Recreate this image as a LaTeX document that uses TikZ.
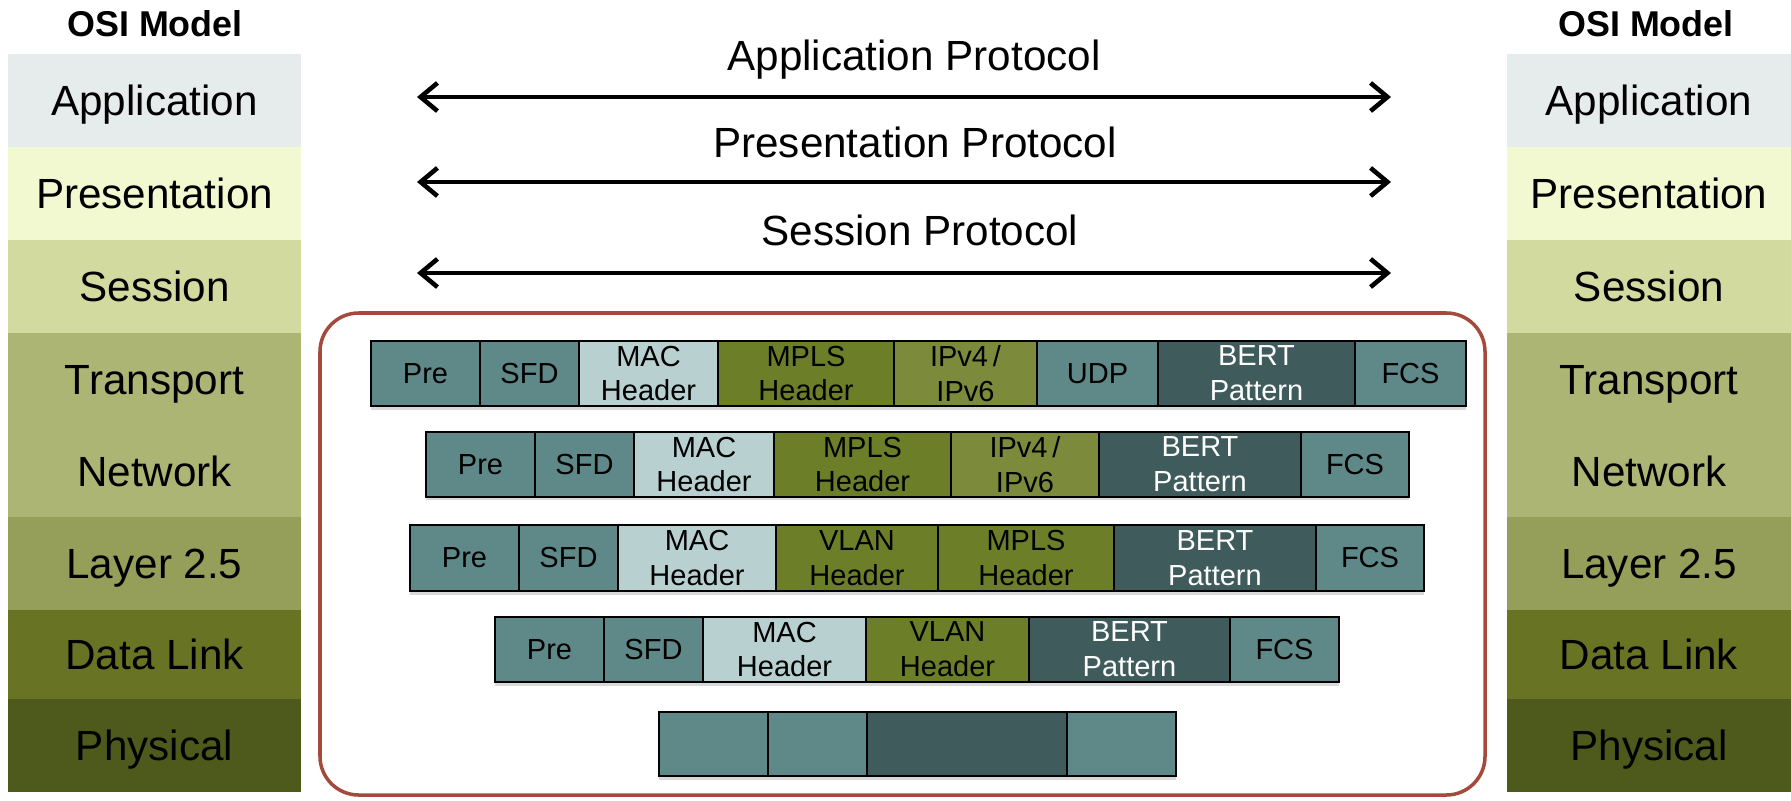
\documentclass[tikz,border=0pt]{standalone}
\usepackage{fontspec}
\setmainfont{Liberation Sans}
\usepackage{xcolor}
\usetikzlibrary{arrows.meta,positioning,shadows}

\definecolor{appcol}{HTML}{E6ECEB}
\definecolor{prescol}{HTML}{F2F8D0}
\definecolor{sesscol}{HTML}{D3DAA0}
\definecolor{netcol}{HTML}{ACB574}
\definecolor{l25col}{HTML}{959F5A}
\definecolor{linkcol}{HTML}{687423}
\definecolor{physcol}{HTML}{4E5A1C}
\definecolor{tealcol}{HTML}{5F8888}
\definecolor{maccol}{HTML}{B9D0D1}
\definecolor{mplscol}{HTML}{6C7E28}
\definecolor{ipcol}{HTML}{7C8A3C}
\definecolor{bertcol}{HTML}{405B5C}
\definecolor{framecol}{HTML}{A34A3C}

\begin{document}
\begin{tikzpicture}[
    x=0.01cm, y=-0.01cm,
    layer/.style={rectangle, inner sep=0pt, outer sep=0pt, text height=8.6pt, text depth=0pt,
        font=\fontsize{12}{14.4}\selectfont},
    title/.style={font=\fontsize{10.2}{12}\selectfont\bfseries, anchor=base},
    cell/.style={rectangle, draw=black, line width=0.45pt, inner sep=0pt, outer sep=0pt,
        align=center, font=\fontsize{8.25}{9.9}\selectfont,
        drop shadow={shadow xshift=0pt, shadow yshift=-1pt, opacity=0.3}},
    pre/.style={cell, fill=tealcol},
    mac/.style={cell, fill=maccol},
    mpls/.style={cell, fill=mplscol},
    ip/.style={cell, fill=ipcol},
    bert/.style={cell, fill=bertcol, text=white},
    proto/.style={line width=1.3pt, <->, >={Straight Barb[length=4.8pt,width=8pt]}},
    protolabel/.style={font=\fontsize{12}{14.4}\selectfont, anchor=base}
]
    \useasboundingbox (0,0) rectangle (1791,800);

    % OSI columns
    \node[title] (ltitle) at (155,37) {OSI Model};
    \node[title] (rtitle) at (1646,37) {OSI Model};
    \foreach \name/\ya/\yb/\col/\txt in {app/54/147/appcol/Application, pres/147/240/prescol/Presentation,
        sess/240/333/sesscol/Session, trans/333/425/netcol/Transport, net/425/517/netcol/Network,
        ltf/517/610/l25col/Layer 2.5, link/610/699/linkcol/Data Link, phys/699/792/physcol/Physical} {
        \node[layer, fill=\col, minimum width={293*0.01cm}, minimum height={(\yb-\ya+0.6)*0.01cm}]
            (L\name) at (154.5, {(\ya+\yb)/2}) {\txt};
        \node[layer, fill=\col, minimum width={284*0.01cm}, minimum height={(\yb-\ya+0.6)*0.01cm}]
            (R\name) at (1649, {(\ya+\yb)/2}) {\txt};
    }

    % Protocols
    \coordinate (apL) at (417,97);   \coordinate (apR) at (1391,97);
    \coordinate (prL) at (417,182);  \coordinate (prR) at (1391,182);
    \coordinate (seL) at (417,273);  \coordinate (seR) at (1391,273);
    \draw[proto] (apL) -- (apR);
    \draw[proto] (prL) -- (prR);
    \draw[proto] (seL) -- (seR);
    \node[protolabel] (apText) at (914,70) {Application Protocol};
    \node[protolabel] (prText) at (915,157) {Presentation Protocol};
    \node[protolabel] (seText) at (920,245) {Session Protocol};

    % Frames
    \draw[framecol, line width=1pt, rounded corners=11pt] (320,313) rectangle (1485,795);

    % Row 1
    \foreach \xb/\sty/\txt [count=\i, remember=\xb as \xa (initially 371)] in {480/pre/Pre, 579/pre/SFD,
        718/mac/{MAC\\Header}, 894/mpls/{MPLS\\Header}, 1037/ip/{IPv4\,/\\IPv6}, 1158/pre/UDP,
        1355/bert/{BERT\\Pattern}, 1466/pre/FCS} {
        \node[\sty, minimum width={(\xb-\xa)*0.01cm}, minimum height={65*0.01cm}]
            (ra\i) at ({(\xa+\xb)/2}, 373.5) {\txt};
    }

    % Row 2
    \foreach \xb/\sty/\txt [count=\i, remember=\xb as \xa (initially 426)] in {535/pre/Pre, 634/pre/SFD,
        774/mac/{MAC\\Header}, 951/mpls/{MPLS\\Header}, 1099/ip/{IPv4\,/\\IPv6},
        1301/bert/{BERT\\Pattern}, 1409/pre/FCS} {
        \node[\sty, minimum width={(\xb-\xa)*0.01cm}, minimum height={64.5*0.01cm}]
            (rb\i) at ({(\xa+\xb)/2}, 464.5) {\txt};
    }

    % Row 3
    \foreach \xb/\sty/\txt [count=\i, remember=\xb as \xa (initially 410)] in {519/pre/Pre, 618/pre/SFD,
        776/mac/{MAC\\Header}, 938/mpls/{VLAN\\Header}, 1114/mpls/{MPLS\\Header},
        1316/bert/{BERT\\Pattern}, 1424/pre/FCS} {
        \node[\sty, minimum width={(\xb-\xa)*0.01cm}, minimum height={66*0.01cm}]
            (rc\i) at ({(\xa+\xb)/2}, 558) {\txt};
    }

    % Row 4
    \foreach \xb/\sty/\txt [count=\i, remember=\xb as \xa (initially 495)] in {604/pre/Pre, 703/pre/SFD,
        866/mac/{MAC\\Header}, 1029/mpls/{VLAN\\Header}, 1230/bert/{BERT\\Pattern}, 1339/pre/FCS} {
        \node[\sty, minimum width={(\xb-\xa)*0.01cm}, minimum height={65*0.01cm}]
            (rd\i) at ({(\xa+\xb)/2}, 649.5) {\txt};
    }

    % Row 5 (physical, no labels)
    \foreach \xb/\sty [count=\i, remember=\xb as \xa (initially 659)] in {768/pre, 867/pre, 1067/bert, 1176/pre} {
        \node[\sty, minimum width={(\xb-\xa)*0.01cm}, minimum height={64*0.01cm}]
            (re\i) at ({(\xa+\xb)/2}, 744) {};
    }
\end{tikzpicture}
\end{document}
